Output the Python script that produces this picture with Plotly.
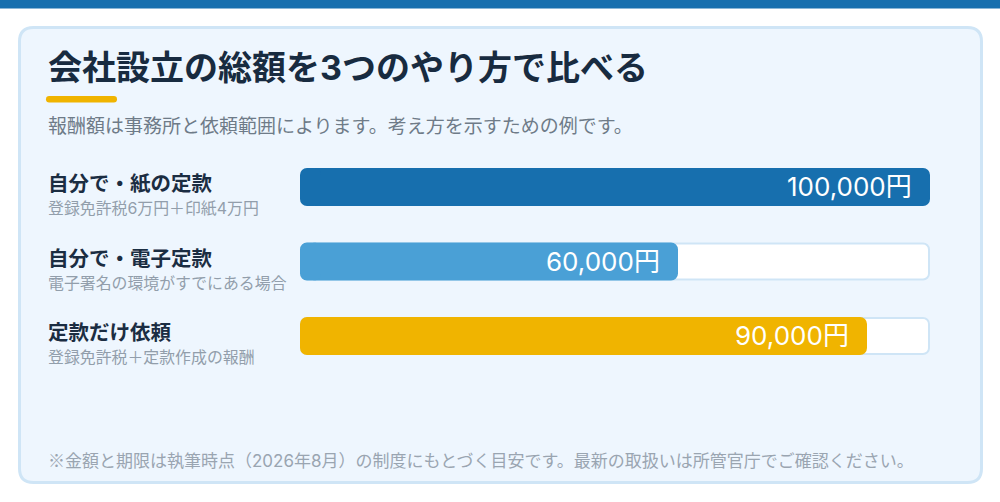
import plotly.graph_objects as go

# ---- data ----
title = "会社設立の総額を3つのやり方で比べる"
subtitle = "報酬額は事務所と依頼範囲によります。考え方を示すための例です。"
footnote_mark = "※"
footnote = "金額と期限は執筆時点（2026年8月）の制度にもとづく目安です。最新の取扱いは所管官庁でご確認ください。"
labels = ["自分で・紙の定款", "自分で・電子定款", "定款だけ依頼"]
sublabels = ["登録免許税6万円＋印紙4万円", "電子署名の環境がすでにある場合", "登録免許税＋定款作成の報酬"]
values = [100000, 60000, 90000]
value_texts = ["100,000円", "60,000円", "90,000円"]
bar_colors = ["#176fae", "#4aa0d6", "#f0b400"]
axis_max = 100000

W, H = 1000, 502
FONT = "Inter, Noto Sans CJK JP"
CJK = "Noto Sans CJK JP"

def px(x):
    return x / W

def py(y):
    return 1 - y / H

def rrect(x0, y0, x1, y1, r):
    pts = [
        f"M {px(x0 + r)} {py(y0)}",
        f"L {px(x1 - r)} {py(y0)}",
        f"Q {px(x1)} {py(y0)} {px(x1)} {py(y0 + r)}",
        f"L {px(x1)} {py(y1 - r)}",
        f"Q {px(x1)} {py(y1)} {px(x1 - r)} {py(y1)}",
        f"L {px(x0 + r)} {py(y1)}",
        f"Q {px(x0)} {py(y1)} {px(x0)} {py(y1 - r)}",
        f"L {px(x0)} {py(y0 + r)}",
        f"Q {px(x0)} {py(y0)} {px(x0 + r)} {py(y0)}",
        "Z",
    ]
    return " ".join(pts)

ypos = list(range(len(labels)))
row_pitch = 74.5
first_center = 187
top_px = first_center - row_pitch / 2
bot_px = top_px + row_pitch * len(labels)
plot_w = 630
unit_per_px = axis_max / plot_w


def rounded_bar(fig, vals, color, thickness_px, radius, inset_px=0.0):
    """Bar rounded at both ends: main body (rounded at its end) plus a
    short reversed cap that rounds the start."""
    inset = inset_px * unit_per_px
    cap = 3 * radius * unit_per_px
    body_start = 1.2 * radius * unit_per_px
    lo = [inset for v in vals]
    hi = [v - inset for v in vals]
    fig.add_trace(go.Bar(
        y=ypos, base=[l + body_start for l in lo],
        x=[h - l - body_start for l, h in zip(lo, hi)], orientation="h",
        marker=dict(color=color, line=dict(width=0), cornerradius=radius),
        width=thickness_px / row_pitch, hoverinfo="skip", showlegend=False,
    ))
    fig.add_trace(go.Bar(
        y=ypos, base=[l + cap for l in lo],
        x=[-cap for l in lo], orientation="h",
        marker=dict(color=color, line=dict(width=0), cornerradius=radius),
        width=thickness_px / row_pitch, hoverinfo="skip", showlegend=False,
    ))


fig = go.Figure()
track = [axis_max] * len(labels)
rounded_bar(fig, track, "#cfe5f6", 38, 7)              # track border
rounded_bar(fig, track, "#ffffff", 34, 5, inset_px=2)  # track fill
rounded_bar(fig, values, bar_colors, 38, 7)            # values

annotations = []
for i, (lab, sub, v, vt) in enumerate(zip(labels, sublabels, values, value_texts)):
    annotations.append(dict(
        x=px(46), xref="paper", y=i, yref="y", yshift=-7.5,
        text=(f"<span style='font-size:20.5px;color:#1b2d42'><b>{lab}</b></span><br>"
              f"<span style='font-size:15.9px;color:#929eab'>{sub}</span>"),
        showarrow=False, xanchor="left", yanchor="middle", align="left",
        font=dict(family=FONT, size=17.7, color="#929eab"),
    ))
    annotations.append(dict(
        x=v, xref="x", y=i, yref="y", xshift=-16, yshift=0.5,
        text=vt, showarrow=False, xanchor="right", yanchor="middle",
        font=dict(family=FONT, size=26, color="#ffffff"),
    ))

annotations += [
    dict(x=px(46), xref="paper", y=py(67), yref="paper", text=f"<b>{title}</b>",
         showarrow=False, xanchor="left", yanchor="middle",
         font=dict(family=FONT, size=34, color="#182b40")),
    dict(x=px(46), xref="paper", y=py(126), yref="paper", text=subtitle,
         showarrow=False, xanchor="left", yanchor="middle",
         font=dict(family=FONT, size=19, color="#6e7b88")),
    dict(x=px(46), xref="paper", y=py(459.5), yref="paper",
         text=f"<span style='font-family:{CJK}'>{footnote_mark}</span>{footnote}",
         showarrow=False, xanchor="left", yanchor="middle",
         font=dict(family=FONT, size=17, color="#9aa5b1")),
]

shapes = [
    dict(type="rect", xref="paper", yref="paper", x0=0, x1=1, y0=py(8.5), y1=1,
         fillcolor="#176fae", line=dict(width=0), layer="below"),
    dict(type="path", xref="paper", yref="paper", path=rrect(19.5, 27.5, 981.5, 482.5, 14),
         fillcolor="#eef6fe", line=dict(color="#cfe5f6", width=3), layer="below"),
    dict(type="path", xref="paper", yref="paper", path=rrect(46, 96, 117, 102.5, 3.2),
         fillcolor="#f0b400", line=dict(width=0), layer="below"),
]

fig.update_layout(
    width=W, height=H,
    margin=dict(l=0, r=0, t=0, b=0),
    paper_bgcolor="#ffffff", plot_bgcolor="rgba(0,0,0,0)",
    barmode="overlay",
    xaxis=dict(domain=[px(300), px(930)], range=[0, axis_max], visible=False, fixedrange=True),
    yaxis=dict(domain=[py(bot_px), py(top_px)], range=[len(labels) - 0.5, -0.5],
               visible=False, fixedrange=True),
    shapes=shapes, annotations=annotations,
    font=dict(family=FONT),
)

fig.write_html(
    "out.html",
    config={"displayModeBar": False},
    post_script="document.body.style.margin='0';document.body.style.overflow='hidden';",
)
